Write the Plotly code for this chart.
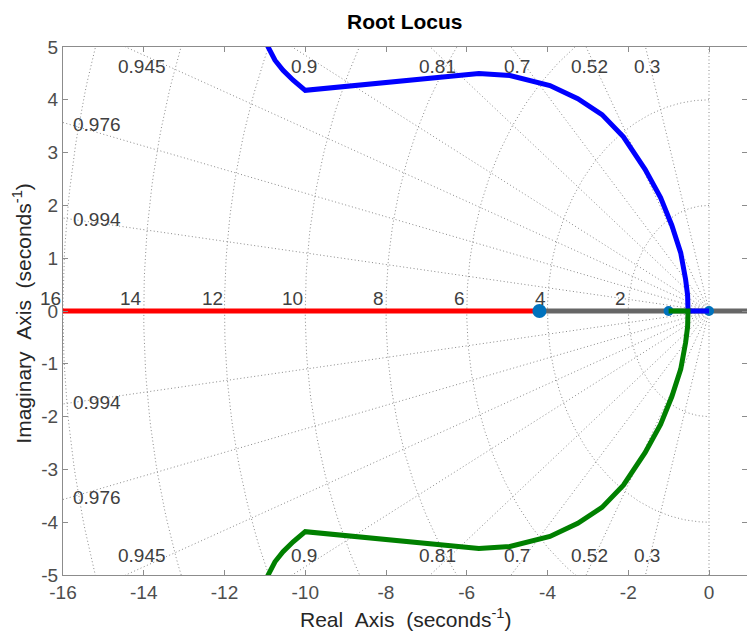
import numpy as np
import plotly.graph_objects as go

# Open-loop poles and zero on the real axis
pole_re = [0.0, -1.0]
zero_re = [-4.2]

# Upper branch: leaves the pole at s = 0, breaks away near s = -0.52
upper_re = [0.0, -0.52, -0.53, -0.58, -0.70, -0.92, -1.20, -1.58, -2.12, -2.65,
            -3.25, -3.94, -4.93, -5.70, -10.00, -10.30, -10.55, -10.75, -10.92, -11.15]
upper_im = [0.0, 0.0, 0.30, 0.60, 1.10, 1.62, 2.15, 2.68, 3.30, 3.72,
            4.02, 4.27, 4.46, 4.50, 4.18, 4.37, 4.56, 4.75, 5.00, 5.40]

# Lower branch: leaves the pole at s = -1
lower_re = [-1.0, -0.52, -0.53, -0.58, -0.70, -0.92, -1.20, -1.58, -2.12, -2.65,
            -3.25, -3.94, -4.93, -5.70, -10.00, -10.30, -10.55, -10.75, -10.92, -11.15]
lower_im = [0.0, 0.0, -0.30, -0.60, -1.10, -1.62, -2.15, -2.68, -3.30, -3.72,
            -4.02, -4.27, -4.46, -4.50, -4.18, -4.37, -4.56, -4.75, -5.00, -5.40]

# Real-axis branch from the zero towards -infinity, and the axis to its right
left_branch_re = [-4.2, -17.0]
right_segment_re = [-4.2, 1.0]

# s-plane grid: damping ratios and natural frequencies
zeta_vals = [0.3, 0.52, 0.7, 0.81, 0.9, 0.945, 0.976, 0.994]
zeta_text = ["0.3", "0.52", "0.7", "0.81", "0.9", "0.945", "0.976", "0.994"]
wn_vals = [2, 4, 6, 8, 10, 12, 14, 16]

x_ticks = [-16, -14, -12, -10, -8, -6, -4, -2, 0]
x_ticktext = ["-16", "-14", "-12", "-10", "-8", "-6", "-4", "-2", "0"]
y_ticks = [-5, -4, -3, -2, -1, 0, 1, 2, 3, 4, 5]
y_ticktext = ["-5", "-4", "-3", "-2", "-1", "0", "1", "2", "3", "4", "5"]

XMIN, XMAX, YMIN, YMAX = -16, 0.941, -5, 5
GRID = "#8a8a8a"
TXT = "#404040"
FONT = "Liberation Sans, Arial, sans-serif"

fig = go.Figure()

# constant-damping rays
gx, gy = [], []
R = 40.0
for z in zeta_vals:
    s = np.sqrt(1 - z * z)
    gx += [0, -R * z, None, 0, -R * z, None]
    gy += [0, R * s, None, 0, -R * s, None]
gx += [0, 0, None]
gy += [-R, R, None]
# constant-frequency half circles
th = np.linspace(np.pi / 2, 3 * np.pi / 2, 241)
for w in wn_vals:
    gx += list(w * np.cos(th)) + [None]
    gy += list(w * np.sin(th)) + [None]
fig.add_trace(go.Scatter(x=gx, y=gy, mode="lines", hoverinfo="skip",
                         line=dict(color=GRID, width=1, dash="1px,2.5px")))

# locus branches
fig.add_trace(go.Scatter(x=right_segment_re, y=[0, 0], mode="lines",
                         line=dict(color="#666666", width=5)))
fig.add_trace(go.Scatter(x=left_branch_re, y=[0, 0], mode="lines",
                         line=dict(color="#ff0000", width=5)))
fig.add_trace(go.Scatter(x=zero_re, y=[0] * len(zero_re), mode="markers",
                         marker=dict(color="#0072bd", size=14)))
fig.add_trace(go.Scatter(x=pole_re, y=[0] * len(pole_re), mode="markers",
                         marker=dict(color="#0072bd", size=10)))
fig.add_trace(go.Scatter(x=upper_re, y=upper_im, mode="lines",
                         line=dict(color="#0000ff", width=5)))
fig.add_trace(go.Scatter(x=lower_re, y=lower_im, mode="lines",
                         line=dict(color="#008000", width=5)))

ann = []
# damping labels: on the ray, near the top/bottom or the left edge
y_lab, x_lab = 4.86, -15.8
for z, t in zip(zeta_vals, zeta_text):
    s = np.sqrt(1 - z * z)
    xt = -y_lab * z / s
    if xt > x_lab:
        ann.append(dict(x=xt, y=y_lab, text=t, xanchor="center", yanchor="top"))
        ann.append(dict(x=xt, y=-y_lab, text=t, xanchor="center", yanchor="bottom"))
    else:
        yl = -x_lab * s / z
        ann.append(dict(x=x_lab, y=yl, text=t, xanchor="left", yanchor="middle"))
        ann.append(dict(x=x_lab, y=-yl, text=t, xanchor="left", yanchor="middle"))
# frequency labels just above the real axis
for w in wn_vals:
    ann.append(dict(x=-w, y=0, text=str(w), xanchor="right", yanchor="bottom"))
for a in ann:
    a.update(xref="x", yref="y", showarrow=False,
             font=dict(family=FONT, size=19, color=TXT))

NB = "\u00a0"
ann.append(dict(xref="paper", yref="paper", x=0.5, y=1, yshift=26,
                xanchor="center", yanchor="middle", showarrow=False,
                text="<b>Root Locus</b>",
                font=dict(family=FONT, size=21, color="#000000")))
ann.append(dict(xref="paper", yref="paper", x=0.5, y=0, yshift=-43,
                xanchor="center", yanchor="middle", showarrow=False,
                text=f"Real{NB}{NB}Axis{NB}{NB}(seconds<sup>-1</sup>)",
                font=dict(family=FONT, size=21, color="#262626")))
ann.append(dict(xref="paper", yref="paper", x=0, xshift=-41, y=0.495,
                xanchor="center", yanchor="middle", showarrow=False, textangle=-90,
                text=f"Imaginary{NB}{NB}Axis{NB}{NB}(seconds<sup>-1</sup>)",
                font=dict(family=FONT, size=21, color="#262626")))

axis_common = dict(showgrid=False, zeroline=False, showline=True,
                   linecolor="#8c8c8c", linewidth=1, mirror="ticks",
                   ticks="inside", ticklen=5, tickcolor="#8c8c8c",
                   tickfont=dict(family=FONT, size=19, color="#4d4d4d"))

fig.update_layout(
    width=747, height=634,
    margin=dict(l=63, r=0, t=47, b=59),
    paper_bgcolor="white", plot_bgcolor="white",
    showlegend=False,
    annotations=ann,
    xaxis=dict(range=[XMIN, XMAX], tickvals=x_ticks, ticktext=x_ticktext, **axis_common),
    yaxis=dict(range=[YMIN, YMAX], tickvals=y_ticks, ticktext=y_ticktext, **axis_common),
)

fig.write_html("out.html")
